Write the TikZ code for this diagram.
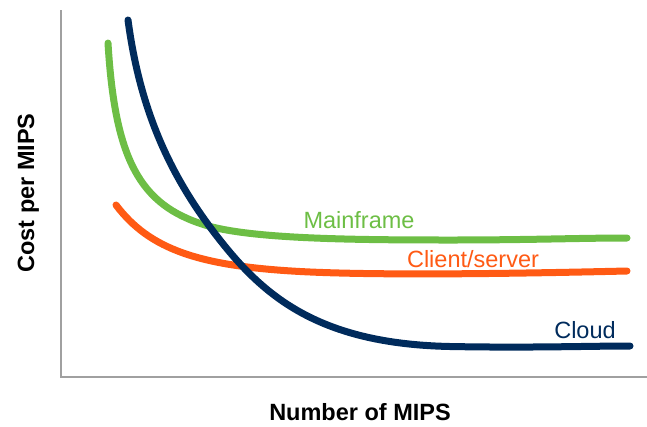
\documentclass[tikz,border=0pt]{standalone}
\usepackage{fontspec}
\setmainfont{Liberation Sans}
\definecolor{navy}{RGB}{0,43,92}
\definecolor{mfgreen}{RGB}{109,190,69}
\definecolor{csorange}{RGB}{255,90,20}
\definecolor{axisgray}{RGB}{160,160,160}
\begin{document}
\begin{tikzpicture}[x=1pt,y=-1pt,
  curve/.style={line width=7pt,line cap=round,line join=round},
  lbl/.style={font=\fontsize{23.5}{28}\selectfont,inner sep=0pt,anchor=base},
  axlbl/.style={font=\fontsize{23.5}{28}\selectfont\bfseries,inner sep=0pt,anchor=base},
  axis/.style={draw=axisgray,line width=1.5pt}]
\useasboundingbox (0,0) rectangle (647,426);
\coordinate (ytop) at (61,10);
\coordinate (origin) at (61,377);
\coordinate (xend) at (647,377);
\draw[axis] (ytop) -- (origin) -- (xend);
% Mainframe
\draw[curve,mfgreen] (108,43) .. controls (115,160) and (140,205) .. (205,225)
  .. controls (250,238.8) and (350,240) .. (450,240)
  .. controls (530,240) and (580,238) .. (627,238);
% Client/server
\draw[curve,csorange] (116,205) .. controls (150,250) and (200,266) .. (300,271.5)
  .. controls (380,275.8) and (520,273.5) .. (627,271);
% Cloud
\draw[curve,navy] (128,20) .. controls (140,110) and (170,180) .. (228,250)
  .. controls (273,304.3) and (330,344) .. (450,346.5)
  .. controls (530,348) and (590,346) .. (630,346);
\node[lbl,text=mfgreen] (mf) at (359,228) {Mainframe};
\node[lbl,text=csorange] (cs) at (473,267) {Client/server};
\node[lbl,text=navy] (cl) at (585,338) {Cloud};
\node[axlbl] (xl) at (360,420) {Number of MIPS};
\node[axlbl,rotate=90] (yl) at (34,193) {Cost per MIPS};
\end{tikzpicture}
\end{document}
